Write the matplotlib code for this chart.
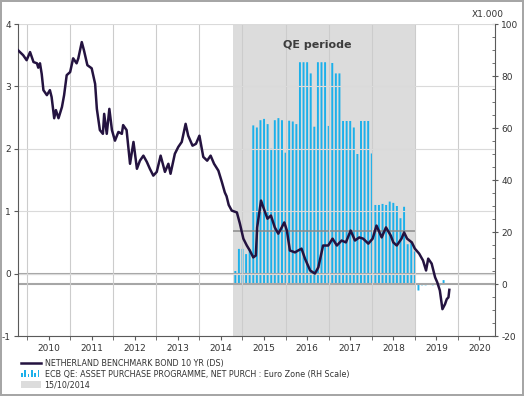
import numpy as np
import pandas as pd
import matplotlib.pyplot as plt
from matplotlib.patches import Rectangle, Patch
from matplotlib.lines import Line2D
from matplotlib.legend_handler import HandlerBase

plt.rcParams['font.family'] = ['DejaVu Sans']
plt.rcParams['axes.unicode_minus'] = False

# NL 10y benchmark yield (%), decimal years
yield_t = [2009.79, 2009.91, 2009.99, 2010.07, 2010.15, 2010.23, 2010.26, 2010.30, 2010.34, 2010.38,
           2010.46, 2010.53, 2010.57, 2010.63, 2010.67, 2010.73, 2010.81, 2010.86, 2010.92, 2011.00,
           2011.07, 2011.15, 2011.19, 2011.27, 2011.32, 2011.40, 2011.50, 2011.58, 2011.62, 2011.69,
           2011.76, 2011.79, 2011.85, 2011.91, 2011.97, 2012.04, 2012.12, 2012.20, 2012.23, 2012.31,
           2012.39, 2012.47, 2012.55, 2012.62, 2012.70, 2012.78, 2012.85, 2012.93, 2013.01, 2013.10,
           2013.20, 2013.28, 2013.33, 2013.43, 2013.51, 2013.59, 2013.68, 2013.74, 2013.84, 2013.92,
           2014.00, 2014.09, 2014.18, 2014.26, 2014.34, 2014.44, 2014.52, 2014.59, 2014.63, 2014.68,
           2014.75, 2014.87, 2014.94, 2015.02, 2015.10, 2015.17, 2015.25, 2015.31, 2015.34, 2015.43,
           2015.51, 2015.58, 2015.66, 2015.75, 2015.83, 2015.91, 2015.97, 2016.03, 2016.10, 2016.22,
           2016.29, 2016.37, 2016.45, 2016.57, 2016.68, 2016.76, 2016.87, 2016.99, 2017.09, 2017.19,
           2017.30, 2017.40, 2017.51, 2017.61, 2017.71, 2017.80, 2017.92, 2018.02, 2018.11, 2018.23,
           2018.33, 2018.44, 2018.50, 2018.58, 2018.69, 2018.75, 2018.82, 2018.93, 2019.00, 2019.10,
           2019.19, 2019.26, 2019.31, 2019.39, 2019.47, 2019.52, 2019.58, 2019.64, 2019.70, 2019.74,
           2019.78, 2019.80]
yield_v = [3.58, 3.50, 3.42, 3.55, 3.39, 3.37, 3.30, 3.37, 3.20, 2.94,
           2.86, 2.94, 2.83, 2.49, 2.62, 2.49, 2.67, 2.86, 3.18, 3.23,
           3.45, 3.37, 3.45, 3.71, 3.58, 3.34, 3.29, 3.04, 2.64, 2.30,
           2.24, 2.56, 2.24, 2.64, 2.30, 2.13, 2.27, 2.24, 2.38, 2.30,
           1.76, 2.11, 1.68, 1.81, 1.89, 1.79, 1.68, 1.57, 1.63, 1.89,
           1.63, 1.76, 1.60, 1.92, 2.03, 2.11, 2.40, 2.21, 2.05, 2.08,
           2.21, 1.87, 1.81, 1.89, 1.76, 1.65, 1.47, 1.30, 1.24, 1.10,
           1.01, 0.98, 0.80, 0.56, 0.45, 0.37, 0.26, 0.29, 0.74, 1.17,
           1.01, 0.88, 0.93, 0.74, 0.64, 0.74, 0.82, 0.69, 0.37, 0.34,
           0.37, 0.40, 0.24, 0.05, 0.00, 0.10, 0.45, 0.45, 0.56, 0.45,
           0.53, 0.50, 0.69, 0.53, 0.58, 0.56, 0.48, 0.56, 0.77, 0.58,
           0.74, 0.61, 0.50, 0.45, 0.56, 0.66, 0.56, 0.50, 0.40, 0.32,
           0.21, 0.05, 0.24, 0.16, -0.06, -0.14, -0.27, -0.57, -0.49, -0.41,
           -0.38, -0.26]

# ECB APP net purchases, EUR bn (x1.000 mln), monthly from Oct 2014
qe_net = [5.0, 13.5, 13.5, 11.5, 13.3, 61.0, 60.2, 63.0, 63.5, 61.5,
          52.0, 63.0, 63.8, 63.0, 50.5, 62.8, 62.5, 61.5, 85.3, 85.3,
          85.3, 81.0, 60.5, 85.3, 85.3, 85.3, 60.8, 85.0, 81.0, 81.0,
          62.7, 62.7, 62.7, 60.2, 50.0, 62.7, 62.7, 62.7, 50.2, 30.4,
          30.4, 30.8, 30.4, 31.7, 31.2, 30.0, 25.3, 29.7, 15.3, 16.0,
          12.5, -2.5, -0.5, -0.5, -0.3, -0.5, -0.4, -0.5, 1.5]
qe_months = pd.period_range("2014-10", periods=len(qe_net), freq="M")
bar_t = [p.year + p.month / 12 for p in qe_months]   # month end

qe_start = 2014 + 287 / 365   # 15/10/2014
qe_end = 2019.0
qe_level = 0.68

years = list(range(2010, 2021))

dark = '#241340'
cyan = '#1cb0ea'
grey_span = '#dcdcdc'
txt = '#333333'
spine_c = '#5a5a5a'

fig = plt.figure(figsize=(5.24, 3.96), dpi=100)
fig.patch.set_edgecolor('#a6a6a6')
fig.patch.set_linewidth(1.5)
ax = fig.add_axes([18 / 524, 60 / 396, 477 / 524, 312 / 396])
ax2 = ax.twinx()
ax.set_zorder(ax2.get_zorder() + 1)
ax.patch.set_visible(False)

ax2.axvspan(qe_start, qe_end, color=grey_span, lw=0, zorder=0)
bars = ax2.bar(bar_t, qe_net, width=0.045, color=cyan, lw=0, zorder=2)
for b in bars:
    b.set_snap(False)
ax2.axhline(0, color='#a6a6a6', lw=1.5, zorder=3)

ax.axhline(0, color='#a6a6a6', lw=1.5, zorder=1)
ax.hlines(qe_level, qe_start, qe_end, color='#8a8a8a', lw=1.1, zorder=1)
ax.plot(yield_t, yield_v, color=dark, lw=1.8, zorder=4, solid_joinstyle='round')

ax.set_xlim(2009.79, 2020.86)
ax.set_ylim(-1, 4)
ax2.set_ylim(-20, 100)

ax.set_xticks([y + 0.5 for y in years])
ax.set_xticklabels([str(y) for y in years])
ax.set_xticks(years, minor=True)
ax.set_yticks(range(-1, 5))
ax2.set_yticks(range(-20, 101, 20))
ax2.set_yticks(range(-20, 101, 5), minor=True)

ax.xaxis.grid(True, which='minor', color='#cccccc', lw=0.8, zorder=0)
ax.yaxis.grid(True, which='major', color='#dadada', lw=0.8, zorder=0)

for s in ['top', 'right']:
    ax.spines[s].set_visible(False)
for s in ['top', 'left', 'bottom']:
    ax2.spines[s].set_visible(False)
for s in ['left', 'bottom']:
    ax.spines[s].set_color(spine_c)
ax2.spines['right'].set_color(spine_c)

ax.tick_params(axis='x', which='both', direction='out', length=3, color=spine_c,
               labelsize=6.5, labelcolor=txt, pad=3)
ax.tick_params(axis='y', direction='out', length=3, color=spine_c,
               labelsize=6.5, labelcolor=txt, pad=2)
ax2.tick_params(axis='y', which='major', direction='inout', length=5, color=spine_c,
                labelsize=6.5, labelcolor=txt, pad=2)
ax2.tick_params(axis='y', which='minor', direction='in', length=2, color=spine_c)

ax.text(2016.73, 3.66, 'QE periode', ha='center', va='center', fontsize=8,
        fontweight='bold', color='#3c3c3c')
ax2.text(0.985, 1.03, 'X1.000', transform=ax2.transAxes, ha='center', va='center',
         fontsize=6.5, color=txt)


class BarIcon(HandlerBase):
    def create_artists(self, legend, orig_handle, xdescent, ydescent, width, height,
                       fontsize, trans):
        hs = [0.6, 1.0, 0.5, 1.0, 0.6, 1.0]
        step = width / len(hs)
        arts = []
        for i, h in enumerate(hs):
            arts.append(Rectangle((-xdescent + i * step, -ydescent), step * 0.5, height * h * 1.1,
                                  facecolor=cyan, lw=0, transform=trans))
        return arts


bar_key = Patch(facecolor=cyan)
handles = [Line2D([], [], color=dark, lw=1.8), bar_key, Patch(facecolor=grey_span, lw=0)]
labels = ['NETHERLAND BENCHMARK BOND 10 YR (DS)',
          'ECB QE: ASSET PURCHASE PROGRAMME, NET PURCH : Euro Zone (RH Scale)',
          '15/10/2014']
fig.legend(handles, labels, loc='upper left', bbox_to_anchor=(21 / 524, 1 - 359 / 396),
           frameon=False, fontsize=5.75, labelcolor=txt, handlelength=2.5, handleheight=0.9,
           handletextpad=0.45, labelspacing=0.2, borderaxespad=0, borderpad=0,
           handler_map={bar_key: BarIcon()})

fig.savefig('out.png', dpi=100)
